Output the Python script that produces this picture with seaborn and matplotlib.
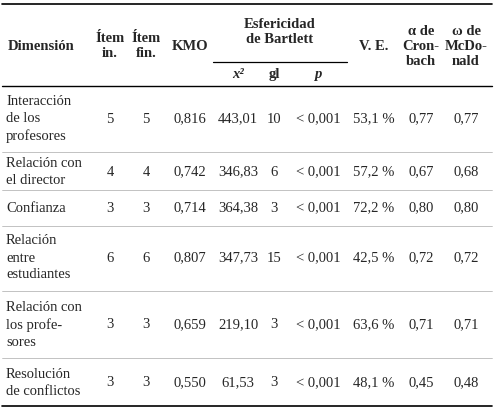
import matplotlib
matplotlib.use("Agg")
import matplotlib.pyplot as plt
import seaborn as sns

sns.set_theme(style="white")
plt.rcParams['font.family'] = ['Liberation Serif', 'DejaVu Serif']

dimensions = ["Interacción\nde los\nprofesores", "Relación con\nel director", "Confianza",
              "Relación\nentre\nestudiantes", "Relación con\nlos profe-\nsores", "Resolución\nde conflictos"]
item_in = ["5", "4", "3", "6", "3", "3"]
item_fin = ["5", "4", "3", "6", "3", "3"]
kmo = ["0,816", "0,742", "0,714", "0,807", "0,659", "0,550"]
chi2 = ["443,01", "346,83", "364,38", "347,73", "219,10", "61,53"]
gl = ["10", "6", "3", "15", "3", "3"]
pval = ["< 0,001"] * 6
ve = ["53,1 %", "57,2 %", "72,2 %", "42,5 %", "63,6 %", "48,1 %"]
alpha = ["0,77", "0,67", "0,80", "0,72", "0,71", "0,45"]
omega = ["0,77", "0,68", "0,80", "0,72", "0,71", "0,48"]

fig = plt.figure(figsize=(4.94, 4.12), dpi=100)
ax = fig.add_axes([0, 0, 1, 1])
ax.set_xlim(0, 494); ax.set_ylim(412, 0); ax.axis("off")

fs = 10.5
xs = [110, 146, 190, 238, 274, 318, 374, 421, 466]
hkw = dict(fontsize=fs, fontweight="bold", ha="center", va="center", linespacing=1.2)
ax.text(8, 46, "Dimensión", fontsize=fs, fontweight="bold", ha="left", va="center")
ax.text(xs[0], 46, "Ítem\nin.", **hkw)
ax.text(xs[1], 46, "Ítem\nfin.", **hkw)
ax.text(xs[2], 46, "KMO", **hkw)
ax.text(280, 32, "Esfericidad\nde Bartlett", **hkw)
ax.text(xs[6], 46, "V. E.", **hkw)
ax.text(xs[7], 46, "α de\nCron-\nbach", **hkw)
ax.text(xs[8], 46, "ω de\nMcDo-\nnald", **hkw)
ax.text(xs[3], 74, "x²", fontsize=fs, fontweight="bold", ha="center", va="center", fontstyle="italic")
ax.text(xs[4], 74, "gl", fontsize=fs, fontweight="bold", ha="center", va="center")
ax.text(xs[5], 74, "p", fontsize=fs, fontweight="bold", fontstyle="italic", ha="center", va="center")

ax.plot([2, 492], [4, 4], color="black", lw=1.2)
ax.plot([213, 347], [62, 62], color="black", lw=0.9)
ax.plot([2, 492], [86, 86], color="black", lw=1.0)

centers = [119, 172, 208, 258, 325, 383]
seps = [152, 190, 226, 291, 358]
for i, y in enumerate(centers):
    ax.text(6, y, dimensions[i], fontsize=fs, ha="left", va="center", linespacing=1.4)
    vals = [item_in[i], item_fin[i], kmo[i], chi2[i], gl[i], pval[i], ve[i], alpha[i], omega[i]]
    for x, v in zip(xs, vals):
        ax.text(x, y, v, fontsize=fs, ha="center", va="center")
for y in seps:
    ax.plot([2, 492], [y, y], color="#aaaaaa", lw=0.5)
ax.plot([2, 492], [406, 406], color="black", lw=1.2)

fig.savefig("out.png", dpi=100)
